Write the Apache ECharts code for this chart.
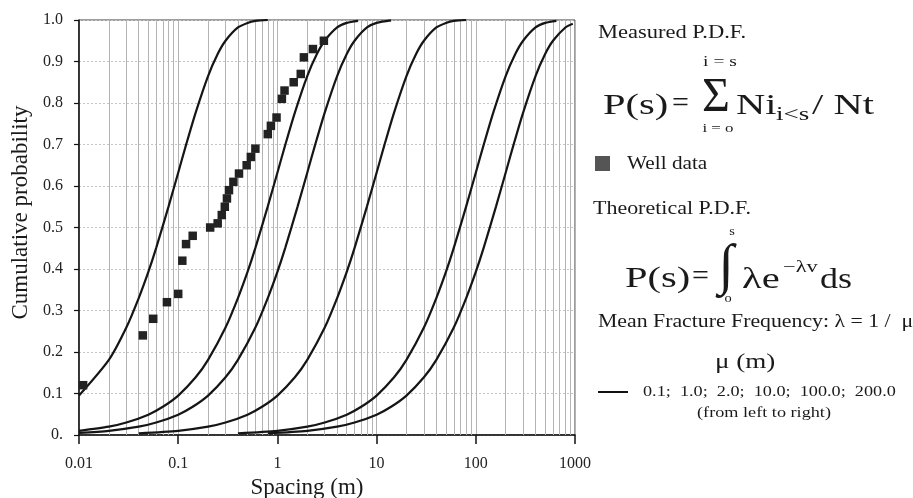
<!DOCTYPE html>
<html>
<head>
<meta charset="utf-8">
<script src="https://cdn.jsdelivr.net/npm/echarts@6/dist/echarts.min.js"></script>
<style>
html,body{margin:0;padding:0;background:#fff;}
#chart{width:913px;height:498px;}
</style>
</head>
<body>
<div id="chart"></div>
<script>
// ---- data ----
const xTickLabels = ['0.01', '0.1', '1', '10', '100', '1000'];
const yTickLabels = ['0.', '0.1', '0.2', '0.3', '0.4', '0.5', '0.6', '0.7', '0.8', '0.9', '1.0'];
const minorGridValues = [
  0.02,0.03,0.04,0.05,0.06,0.07,0.08,0.09,
  0.2,0.3,0.4,0.5,0.6,0.7,0.8,0.9,
  2,3,4,5,6,7,8,9,
  20,30,40,50,60,70,80,90,
  200,300,400,500,600,700,800,900
];
const muLabels = ['0.1', '1.0', '2.0', '10.0', '100.0', '200.0'];

// well data (measured P.D.F.)
const wellX = [0.011,0.044,0.056,0.077,0.10,0.11,0.12,0.14,0.21,0.25,0.275,0.295,0.31,0.325,0.36,0.41,0.49,0.54,0.60,0.80,0.86,0.98,1.11,1.18,1.46,1.72,1.85,2.28,2.94];
const wellY = [0.12,0.24,0.28,0.32,0.34,0.42,0.46,0.48,0.50,0.51,0.53,0.55,0.57,0.59,0.61,0.63,0.65,0.67,0.69,0.725,0.745,0.765,0.81,0.83,0.85,0.87,0.91,0.93,0.95];

// theoretical curves, mu = 0.1
const c01X = [0.01,0.02,0.03,0.04,0.05,0.06,0.08,0.1,0.12,0.15,0.2,0.25,0.3,0.4,0.5,0.6,0.8];
const c01Y = [0.095,0.181,0.259,0.330,0.393,0.451,0.551,0.632,0.699,0.777,0.865,0.918,0.950,0.982,0.993,0.998,1.000];
// mu = 1
const c1X = [0.01,0.02,0.03,0.05,0.07,0.1,0.15,0.2,0.3,0.4,0.5,0.6,0.8,1,1.2,1.5,2,2.5,3,4,5,6.5];
const c1Y = [0.010,0.020,0.030,0.049,0.068,0.095,0.139,0.181,0.259,0.330,0.393,0.451,0.551,0.632,0.699,0.777,0.865,0.918,0.950,0.982,0.993,0.998];
// mu = 2
const c2X = [0.01,0.02,0.04,0.06,0.1,0.14,0.2,0.3,0.4,0.6,0.8,1,1.2,1.6,2,2.4,3,4,5,6,8,10,14];
const c2Y = [0.005,0.010,0.020,0.030,0.049,0.068,0.095,0.139,0.181,0.259,0.330,0.393,0.451,0.551,0.632,0.699,0.777,0.865,0.918,0.950,0.982,0.993,0.999];
// mu = 10
const c10X = [0.04,0.1,0.2,0.3,0.5,0.7,1,1.5,2,3,4,5,6,8,10,12,15,20,25,30,40,50,60,80];
const c10Y = [0.004,0.010,0.020,0.030,0.049,0.068,0.095,0.139,0.181,0.259,0.330,0.393,0.451,0.551,0.632,0.699,0.777,0.865,0.918,0.950,0.982,0.993,0.998,1.000];
// mu = 100
const c100X = [0.4,1,2,3,5,7,10,15,20,30,40,50,60,80,100,120,150,200,250,300,400,500,650];
const c100Y = [0.004,0.010,0.020,0.030,0.049,0.068,0.095,0.139,0.181,0.259,0.330,0.393,0.451,0.551,0.632,0.699,0.777,0.865,0.918,0.950,0.982,0.993,0.998];
// mu = 200
const c200X = [0.8,2,4,6,10,14,20,30,40,60,80,100,120,160,200,240,300,400,500,600,800,950];
const c200Y = [0.004,0.010,0.020,0.030,0.049,0.068,0.095,0.139,0.181,0.259,0.330,0.393,0.451,0.551,0.632,0.699,0.777,0.865,0.918,0.950,0.982,0.991];

// ---- build chart ----
const zip = (xs, ys) => xs.map((x, i) => [x, ys[i]]);
const curves = [[c01X,c01Y],[c1X,c1Y],[c2X,c2Y],[c10X,c10Y],[c100X,c100Y],[c200X,c200Y]];
const SERIF = '"Liberation Serif", "DejaVu Serif", serif';

const lineSeries = curves.map((c, i) => ({
  type: 'line',
  name: 'mu=' + muLabels[i],
  data: zip(c[0], c[1]),
  showSymbol: false,
  symbol: 'none',
  smooth: 0.25,
  lineStyle: { color: '#151515', width: 2.2 },
  z: 5,
  silent: true
}));

const gridLineSeries = {
  type: 'line',
  data: [],
  silent: true,
  markLine: {
    silent: true,
    symbol: 'none',
    label: { show: false },
    lineStyle: { color: '#b4b4b4', width: 1, type: 'solid' },
    data: minorGridValues.map(v => ({ xAxis: v }))
  },
  z: 1
};

// text helper: (text, x, y, fontSize, scaleX, align)
const T = (text, x, y, size, sx, align) => ({
  type: 'text', x: x, y: y, scaleX: sx || 1.15,
  style: {
    text: text, x: 0, y: 0, fill: '#1a1a1a',
    font: size + 'px ' + SERIF,
    textAlign: align || 'left', textVerticalAlign: 'middle',
    align: align || 'left', verticalAlign: 'middle'
  }
});

const chart = echarts.init(document.getElementById('chart'));
chart.setOption({
  animation: false,
  backgroundColor: '#fff',
  grid: {
    left: 79, top: 20, width: 496, height: 415,
    containLabel: false, outerBoundsMode: 'none',
    show: true, borderColor: '#3a3a3a', borderWidth: 1
  },
  xAxis: {
    type: 'log', logBase: 10, min: 0.01, max: 1000,
    name: 'Spacing (m)', nameLocation: 'middle', nameGap: 36,
    nameTextStyle: { fontFamily: SERIF, fontSize: 23, color: '#1a1a1a', padding: [0, 40, 0, 0] },
    axisLine: { show: true, lineStyle: { color: '#111', width: 1.5 } },
    axisTick: { show: true, length: 9, lineStyle: { color: '#111', width: 1.5 } },
    axisLabel: {
      margin: 21, fontFamily: SERIF, fontSize: 16, color: '#222',
      formatter: v => xTickLabels[Math.round(Math.log10(v)) + 2]
    },
    splitLine: { show: true, lineStyle: { color: '#b4b4b4', width: 1 } },
    minorTick: { show: false }
  },
  yAxis: {
    type: 'value', min: 0, max: 1, interval: 0.1,
    name: 'Cumulative probability', nameLocation: 'middle', nameGap: 46,
    nameTextStyle: { fontFamily: SERIF, fontSize: 23, color: '#1a1a1a', padding: [0, 0, 0, 30] },
    axisLine: { show: true, lineStyle: { color: '#111', width: 1.5 } },
    axisTick: { show: true, length: 5, lineStyle: { color: '#111', width: 1.2 } },
    axisLabel: {
      margin: 16, fontFamily: SERIF, fontSize: 16, color: '#222',
      formatter: v => yTickLabels[Math.round(v * 10)]
    },
    splitLine: { show: true, lineStyle: { color: '#c4c4c4', width: 1, type: [2, 2] } }
  },
  series: [gridLineSeries].concat(lineSeries).concat([{
    type: 'scatter',
    name: 'Well data',
    data: zip(wellX, wellY),
    symbol: 'rect',
    symbolSize: 8.5,
    itemStyle: { color: '#222', opacity: 1 },
    z: 6,
    silent: true
  }]),
  graphic: [
    T('Measured P.D.F.', 598, 33, 18, 1.25),
    T('P(s)', 603, 106, 30, 1.35),
    T('=', 672, 104, 30, 1.0),
    T('\u03A3', 716, 98, 48, 1.0, 'center'),
    T('i = s', 720, 62, 15, 1.3, 'center'),
    T('i = o', 718, 129, 13, 1.3, 'center'),
    T('Ni', 736, 106, 30, 1.35),
    T('i<s', 776, 115, 18, 1.5),
    T('/ Nt', 812, 106, 30, 1.35),
    { type: 'rect', shape: { x: 595, y: 156, width: 15, height: 15 }, style: { fill: '#555' } },
    T('Well data', 627, 164, 18, 1.18),
    T('Theoretical P.D.F.', 593, 209, 18, 1.22),
    T('P(s)', 625, 279, 30, 1.35),
    T('=', 692, 277, 30, 1.0),
    T('\u222B', 726, 268, 56, 1.0, 'center'),
    T('s', 732, 232, 12, 1.2, 'center'),
    T('o', 728, 299, 12, 1.2, 'center'),
    T('\u03BBe', 742, 280, 30, 1.35),
    T('\u2212\u03BBv', 783, 268, 16, 1.4),
    T('ds', 820, 280, 30, 1.2),
    T('Mean Fracture Frequency: \u03BB = 1 /  \u03BC', 598, 322, 18, 1.21),
    T('\u03BC (m)', 715, 362, 22, 1.23),
    { type: 'line', shape: { x1: 598, y1: 392, x2: 628, y2: 392 }, style: { stroke: '#111', lineWidth: 2 } },
    T(muLabels.join(';  '), 643, 392, 14, 1.3),
    T('(from left to right)', 764, 413, 14, 1.3, 'center')
  ]
});
</script>
</body>
</html>
